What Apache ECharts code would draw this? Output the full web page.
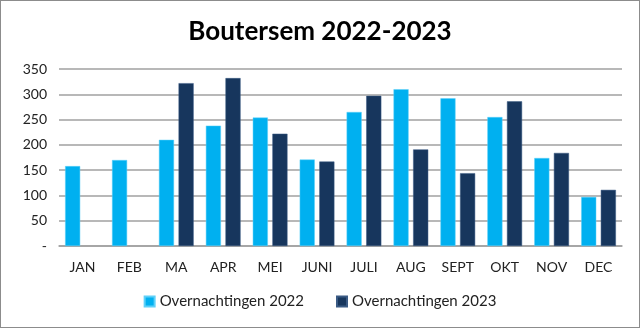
<!DOCTYPE html>
<html><head><meta charset="utf-8">
<script src="https://cdn.jsdelivr.net/npm/echarts@6/dist/echarts.min.js"></script>
<style>html,body{margin:0;padding:0;background:#fff}#c{width:640px;height:328px;box-sizing:border-box;border:1px solid #8c8c8c}</style>
</head><body><div id="c"></div>
<script>
const categories = ['JAN','FEB','MA','APR','MEI','JUNI','JULI','AUG','SEPT','OKT','NOV','DEC'];
const values2022 = [158,170,210,238,254,171,265,310,292,255,174,97];
const values2023 = [null,null,322,332,222,167,297,191,144,286,184,111];
const yTicks = [0,50,100,150,200,250,300,350];
const chart = echarts.init(document.getElementById('c'));
const font = 'Lato, "Open Sans", sans-serif';
chart.setOption({
  animation:false,
  title:{text:'Boutersem 2022-2023',left:'center',top:13,textStyle:{fontFamily:font,fontSize:26,fontWeight:'bold',color:'#000'}},
  legend:{bottom:13,left:'center',itemWidth:10,itemHeight:10,itemGap:32,icon:'rect',
    textStyle:{fontFamily:font,fontSize:15,color:'#222'}},
  grid:{left:58,right:17,top:68,bottom:81},
  xAxis:{type:'category',data:categories,axisTick:{show:false},
    axisLine:{lineStyle:{color:'#a0a0a0',width:1.5}},
    axisLabel:{fontFamily:font,fontSize:14,color:'#222',margin:14}},
  yAxis:{type:'value',min:0,max:350,interval:50,
    axisLabel:{fontFamily:font,fontSize:14,color:'#222',margin:12,
      formatter:v=>v===0?'-':String(v)},
    splitLine:{lineStyle:{color:'#a0a0a0',width:1.5}}},
  series:[
    {name:'Overnachtingen 2022',type:'bar',data:values2022,barGap:'30%',barCategoryGap:'26%',
      itemStyle:{color:'#00B0F0',borderColor:'#5fd0f8',borderWidth:0.5}},
    {name:'Overnachtingen 2023',type:'bar',data:values2023,
      itemStyle:{color:'#17365D',borderColor:'#3a5a84',borderWidth:0.5}}
  ]
});
</script></body></html>
